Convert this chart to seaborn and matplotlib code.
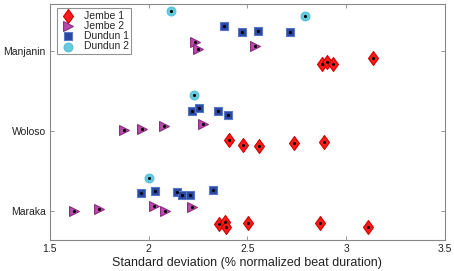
import numpy as np
import pandas as pd
import seaborn as sns
from matplotlib import pyplot as plt

# category positions on the y axis: Maraka=1, Woloso=2, Manjanin=3
categories = ["Maraka", "Woloso", "Manjanin"]

# Jembe 1
jembe1_x = [2.879, 2.904, 2.932, 3.138,
            2.409, 2.478, 2.557, 2.735, 2.889,
            2.355, 2.385, 2.394, 2.503, 2.865, 3.109]
jembe1_y = [2.830, 2.863, 2.830, 2.905,
            1.880, 1.821, 1.805, 1.843, 1.855,
            0.834, 0.863, 0.800, 0.850, 0.850, 0.796]

# Jembe 2
jembe2_x = [2.234, 2.250, 2.537,
            1.875, 1.968, 2.076, 2.276,
            1.624, 1.750, 2.027, 2.082, 2.217]
jembe2_y = [3.105, 3.025, 3.059,
            2.005, 2.021, 2.059, 2.084,
            1.000, 1.018, 1.059, 0.996, 1.050]

# Dundun 1
dundun1_x = [2.380, 2.473, 2.552, 2.714,
             2.219, 2.254, 2.352, 2.402,
             1.960, 2.032, 2.141, 2.167, 2.209, 2.326]
dundun1_y = [3.309, 3.230, 3.250, 3.230,
             2.246, 2.280, 2.250, 2.203,
             1.218, 1.250, 1.238, 1.200, 1.200, 1.259]

# Dundun 2
dundun2_x = [2.111, 2.793, 2.229, 2.000]
dundun2_y = [3.500, 3.434, 2.450, 1.409]

# wider diamond than matplotlib's 'd'
diamond = [(0, 1), (0.72, 0), (0, -1), (-0.72, 0), (0, 1)]

series = [
    ("Jembe 1", jembe1_x, jembe1_y, diamond, "#ff1a1a", "#d00000", 100),
    ("Jembe 2", jembe2_x, jembe2_y, ">", "#b84aa8", "#8a2a80", 50),
    ("Dundun 1", dundun1_x, dundun1_y, "s", "#2a48a0", "#5a78c8", 32),
    ("Dundun 2", dundun2_x, dundun2_y, "o", "#66ccdd", "#55c0d8", 40),
]

sns.set_style("ticks")
plt.rcParams['font.family'] = ['Liberation Sans', 'DejaVu Sans']

fig = plt.figure(figsize=(4.54, 2.71), dpi=100)
ax = fig.add_axes([0.110, 0.114, 0.870, 0.871])

for name, xs, ys, mk, fc, ec, s in series:
    sns.scatterplot(x=xs, y=ys, marker=mk, s=s, color=fc, edgecolor=ec,
                    linewidth=0.8, label=name, ax=ax, zorder=3)
    sns.scatterplot(x=xs, y=ys, marker="o", s=5, color="black",
                    edgecolor="black", linewidth=0, legend=False, ax=ax, zorder=4)

ax.set_xlim(1.5, 3.5)
ax.set_ylim(0.634, 3.584)
ax.set_xticks([1.5, 2, 2.5, 3, 3.5])
ax.set_xticklabels(["1.5", "2", "2.5", "3", "3.5"])
ax.set_yticks([1, 2, 3])
ax.set_yticklabels(categories)
ax.tick_params(direction="in", top=True, right=True, length=3, width=0.6,
               labelsize=7.5, colors="#888888", labelcolor="#222222", pad=3)
for sp in ax.spines.values():
    sp.set_color("#888888")
    sp.set_linewidth(0.8)
ax.set_xlabel("Standard deviation (% normalized beat duration)", fontsize=9,
              color="#222222", labelpad=2)

leg = ax.legend(loc="upper left", bbox_to_anchor=(0.018, 0.983), borderaxespad=0,
                fontsize=7.5, frameon=True, fancybox=False, labelspacing=0.02,
                handletextpad=0.7, borderpad=0.25, handlelength=1.6)
leg.get_frame().set_edgecolor("#777777")
leg.get_frame().set_linewidth(0.8)

fig.savefig("out.png", dpi=100)
